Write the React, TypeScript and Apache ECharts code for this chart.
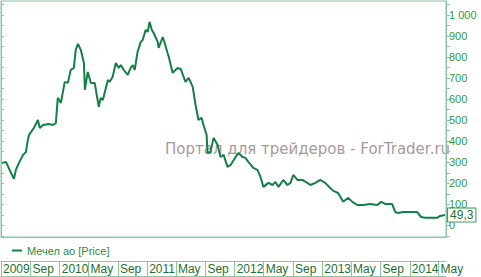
import React, { useEffect, useRef } from "react";
import * as echarts from "echarts";

const seriesName = "Мечел ао [Price]";

const dates: string[] = [
  "2009-05-05","2009-05-22","2009-06-12","2009-06-24","2009-07-02","2009-07-15","2009-08-01","2009-08-13","2009-08-21","2009-08-26",
  "2009-09-15","2009-10-02","2009-10-10","2009-10-23","2009-11-17","2009-12-04","2009-12-16","2009-12-24","2010-01-06","2010-01-22",
  "2010-02-04","2010-02-16","2010-03-01","2010-03-09","2010-03-18","2010-03-30","2010-04-12","2010-04-16","2010-04-28","2010-05-11",
  "2010-05-27","2010-06-13","2010-06-21","2010-06-30","2010-07-21","2010-07-29","2010-08-10","2010-08-23","2010-09-04","2010-09-13",
  "2010-09-25","2010-10-12","2010-10-24","2010-11-02","2010-11-10","2010-11-22","2010-12-05","2010-12-13","2010-12-26","2011-01-03",
  "2011-01-11","2011-01-20","2011-01-28","2011-02-14","2011-02-18","2011-03-07","2011-03-15","2011-03-27","2011-04-01","2011-04-17",
  "2011-05-08","2011-05-21","2011-06-10","2011-06-23","2011-07-10","2011-07-22","2011-08-03","2011-08-16","2011-08-24","2011-09-06",
  "2011-09-10","2011-09-22","2011-10-05","2011-10-22","2011-11-03","2011-11-16","2011-12-02","2011-12-15","2012-01-05","2012-01-17",
  "2012-02-03","2012-02-15","2012-02-28","2012-03-19","2012-04-05","2012-04-18","2012-04-30","2012-05-21","2012-06-07","2012-06-19",
  "2012-07-02","2012-07-22","2012-08-08","2012-08-21","2012-09-02","2012-09-19","2012-10-10","2012-10-30","2012-11-12","2012-12-03",
  "2012-12-23","2013-01-13","2013-02-03","2013-02-16","2013-03-08","2013-03-29","2013-04-19","2013-05-06","2013-05-27","2013-06-21",
  "2013-07-20","2013-08-18","2013-09-04","2013-09-20","2013-10-19","2013-11-01","2013-11-13","2013-12-04","2013-12-25","2014-01-31",
  "2014-02-17","2014-03-06","2014-03-27","2014-04-25","2014-05-07","2014-05-28"
];

const prices: number[] = [
  297,301,249,221,264,297,335,349,406,430,
  463,501,463,477,482,477,487,606,582,682,
  677,739,748,834,862,834,772,644,729,677,
  677,563,606,596,691,682,706,772,748,762,
  739,715,748,762,739,824,872,881,929,919,
  967,929,914,872,843,895,867,819,801,725,
  748,743,682,701,658,572,501,511,477,430,
  344,349,416,382,325,335,278,287,325,344,
  325,321,301,273,264,230,183,202,192,206,
  183,216,192,202,240,216,216,202,192,202,
  216,202,178,164,154,112,131,112,97,97,
  102,97,112,102,102,64,59,64,64,64,
  40,36,36,36,45,49.3
];

const tickDates: string[] = [
  "2009-05-01","2009-09-01","2010-01-01","2010-05-01","2010-09-01","2011-01-01","2011-05-01","2011-09-01",
  "2012-01-01","2012-05-01","2012-09-01","2013-01-01","2013-05-01","2013-09-01","2014-01-01","2014-05-01"
];
const tickLabels: string[] = [
  "2009","Sep","2010","May","Sep","2011","May","Sep",
  "2012","May","Sep","2013","May","Sep","2014","May"
];

const yLabelValues: number[] = [0, 100, 200, 300, 400, 500, 600, 700, 800, 900, 1000];
const yTickValues: number[] = [-50, 0, 50, 100, 150, 200, 250, 300, 350, 400, 450, 500, 550, 600, 650, 700, 750, 800, 850, 900, 950, 1000, 1050];

const xMinDate = "2009-05-01";
const xMaxDate = "2014-06-01";
const yMin = -55;
const yMax = 1066;

const watermark = "Портал для трейдеров - ForTrader.ru";

function ts(s: string): number {
  const [y, m, d] = s.split("-").map(Number);
  return new Date(y, m - 1, d).getTime();
}

export default function App() {
  const ref = useRef<HTMLDivElement>(null);

  useEffect(() => {
    if (!ref.current) return;
    const chart = echarts.init(ref.current, undefined, { renderer: "svg" });
    const frame = "#86c8a0";
    const font = "Liberation Sans, Arial, sans-serif";
    const tickTs = tickDates.map(ts);
    const data = dates.map((d, i) => [ts(d), prices[i]]);
    const xMin = ts(xMinDate);
    const xMax = ts(xMaxDate);

    const plainX = (offset: number) => ({
      type: "value",
      min: xMin,
      max: xMax,
      position: "bottom",
      offset,
      axisLine: { show: true, onZero: false, lineStyle: { color: frame, width: 1 } },
      axisTick: { show: false },
      axisLabel: { show: false },
      splitLine: { show: false },
    });

    chart.setOption({
      animation: false,
      backgroundColor: "#ffffff",
      grid: {
        left: 1,
        top: 1,
        right: 35,
        bottom: 40,
        show: true,
        borderColor: frame,
        borderWidth: 1,
        containLabel: false,
        outerBoundsMode: "none",
      },
      legend: {
        left: 7,
        top: 240,
        itemWidth: 10,
        itemHeight: 2,
        icon: "rect",
        itemGap: 10,
        textStyle: { color: "#2c8c3c", fontSize: 11, fontFamily: font },
        data: [{ name: seriesName, itemStyle: { color: "#138046" } }],
      },
      xAxis: [
        plainX(0),
        {
          type: "value",
          min: xMin,
          max: xMax,
          position: "bottom",
          offset: 24,
          axisLine: { show: true, onZero: false, lineStyle: { color: frame, width: 1 } },
          axisTick: {
            show: true,
            customValues: tickTs,
            length: 15,
            inside: false,
            lineStyle: { color: frame, width: 1 },
          },
          axisLabel: {
            show: true,
            customValues: tickTs,
            align: "left",
            margin: 2,
            padding: [0, 0, 0, 2],
            color: "#1f6f2f",
            fontSize: 12,
            fontFamily: font,
            hideOverlap: false,
            showMinLabel: true,
            showMaxLabel: true,
            formatter: (v: number) => {
              let best = 0;
              let bd = Infinity;
              tickTs.forEach((t, i) => {
                const d = Math.abs(t - v);
                if (d < bd) {
                  bd = d;
                  best = i;
                }
              });
              return tickLabels[best];
            },
          },
          splitLine: { show: false },
        },
        plainX(39),
      ],
      yAxis: [
        {
          type: "value",
          position: "right",
          min: yMin,
          max: yMax,
          axisLine: { show: true, onZero: false, lineStyle: { color: frame, width: 1 } },
          axisTick: {
            show: true,
            customValues: yTickValues,
            length: 4,
            inside: false,
            lineStyle: { color: frame, width: 1 },
          },
          axisLabel: {
            show: true,
            customValues: yLabelValues,
            margin: 3,
            color: "#2f9a3a",
            fontSize: 11,
            fontFamily: font,
            formatter: (v: number) =>
              v >= 1000 ? String(v).replace(/\B(?=(\d{3})+(?!\d))/g, " ") : String(v),
          },
          splitLine: { show: false },
        },
        {
          type: "value",
          position: "left",
          min: yMin,
          max: yMax,
          axisLine: { show: true, onZero: false, lineStyle: { color: frame, width: 1 } },
          axisTick: {
            show: true,
            customValues: yTickValues,
            length: 3,
            inside: true,
            lineStyle: { color: frame, width: 1 },
          },
          axisLabel: { show: false },
          splitLine: { show: false },
        },
      ],
      graphic: [
        {
          type: "text",
          left: 165,
          top: 141,
          z: 0,
          style: {
            text: watermark,
            fill: "#a99a9a",
            fontSize: 15,
            fontFamily: "DejaVu Sans, sans-serif",
          },
        },
      ],
      series: [
        {
          name: seriesName,
          type: "line",
          xAxisIndex: 0,
          yAxisIndex: 0,
          data,
          showSymbol: false,
          symbol: "none",
          z: 3,
          lineStyle: { color: "#138046", width: 2 },
          itemStyle: { color: "#138046" },
          endLabel: {
            show: true,
            distance: 3,
            formatter: (p: any) => String(p.value[1]).replace(".", ","),
            backgroundColor: "#ffffff",
            borderColor: "#3a9a5a",
            borderWidth: 1,
            padding: [1, 2, 0, 2],
            color: "#1f6f2f",
            fontSize: 12,
            fontFamily: font,
          },
        },
      ],
    });

    return () => chart.dispose();
  }, []);

  return <div ref={ref} style={{ width: 481, height: 277, position: "absolute", left: 0, top: 0 }} />;
}
